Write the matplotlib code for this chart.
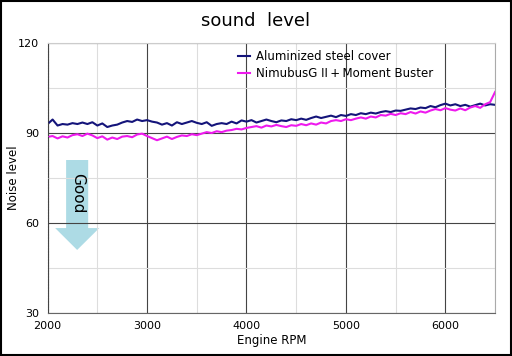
import numpy as np
import matplotlib.pyplot as plt
from matplotlib.patches import Rectangle

# Engine RPM, every 50 rpm from 2000 to 6500
rpm = np.arange(2000, 6501, 50)

steel_cover = [
    93.0, 94.5, 92.5, 93.0, 92.8, 93.3, 93.0, 93.5, 93.0, 93.6,
    92.5, 93.2, 92.0, 92.5, 92.8, 93.5, 94.0, 93.7, 94.5, 94.0,
    94.3, 93.8, 93.5, 92.8, 93.3, 92.5, 93.6, 93.0, 93.5, 94.0,
    93.4, 93.0, 93.6, 92.4, 93.0, 93.3, 93.0, 93.8, 93.2, 94.2,
    93.8, 94.3, 93.5, 94.0, 94.5, 94.0, 93.6, 94.2, 94.0, 94.6,
    94.3, 94.8, 94.4, 95.0, 95.5, 95.0, 95.4, 95.8, 95.3, 96.0,
    95.7, 96.3, 96.0, 96.6, 96.3, 96.8, 96.5, 97.0, 97.3, 97.0,
    97.5, 97.4, 97.8, 98.2, 98.0, 98.5, 98.3, 99.0, 98.6, 99.3,
    99.8, 99.2, 99.6, 99.0, 99.4, 98.8, 99.3, 99.8, 99.2, 99.6,
    99.4,
]

nimbus_buster = [
    88.7, 89.0, 88.2, 88.9, 88.5, 89.3, 89.6, 89.0, 89.8, 89.2,
    88.3, 88.9, 87.8, 88.5, 88.0, 88.8, 89.0, 88.6, 89.5, 89.8,
    89.0, 88.3, 87.6, 88.2, 88.8, 88.0, 88.7, 89.2, 89.0, 89.6,
    89.3, 89.8, 90.3, 90.0, 90.6, 90.3, 90.8, 91.0, 91.4, 91.2,
    91.7, 92.0, 92.3, 91.8, 92.5, 92.2, 92.7, 92.3, 92.0, 92.6,
    92.4, 93.0, 92.6, 93.2, 92.8, 93.5, 93.2, 94.0, 94.3, 94.0,
    94.6, 94.3, 94.8, 95.2, 94.8, 95.5, 95.2, 96.0, 95.8, 96.4,
    96.0, 96.6, 96.3, 97.0, 96.5, 97.2, 96.8, 97.5, 98.0, 97.6,
    98.3, 97.8, 97.5, 98.2, 97.6, 98.5, 99.0, 98.4, 99.6, 100.3,
    103.7,
]

labels = ['Aluminized steel cover', 'NimubusG II\u2009+\u2009Moment Buster']

# "Good" arrow outline (rpm, level)
arrow_x = [2186, 2408, 2408, 2519, 2297, 2076, 2186]
arrow_y = [81, 81, 58.3, 58.3, 51, 58.3, 58.3]

fig = plt.figure(figsize=(5.12, 3.56), dpi=100)
ax = fig.add_axes([0.093, 0.121, 0.874, 0.758])

ax.plot(rpm, steel_cover, color='#14147a', lw=1.5, label=labels[0])
ax.plot(rpm, nimbus_buster, color='#ee1aee', lw=1.5, label=labels[1])

ax.set_xlim(2000, 6500)
ax.set_ylim(30, 120)
ax.set_xticks([2000, 3000, 4000, 5000, 6000])
ax.set_xticks(np.arange(2500, 6501, 1000), minor=True)
ax.set_yticks([30, 60, 90, 120])
ax.set_yticks([45, 75, 105], minor=True)
ax.grid(which='major', color='#444444', lw=0.8)
ax.grid(which='minor', color='#dddddd', lw=0.8)
ax.tick_params(which='both', length=0, labelsize=8)
ax.tick_params(axis='x', pad=6)
ax.tick_params(axis='y', pad=6)

ax.spines['left'].set_linestyle((0, (1, 1.5)))
ax.spines['left'].set_color('#444444')
ax.spines['bottom'].set_color('#666666')
ax.spines['top'].set_color('#cccccc')
ax.spines['right'].set_color('#aaaaaa')

ax.set_xlabel('Engine RPM', fontsize=8.5, labelpad=2)
ax.set_ylabel('Noise level', fontsize=8.5)
ax.yaxis.set_label_coords(-0.062, 0.5)
fig.text(0.5, 0.94, 'sound  level', ha='center', va='center', fontsize=13)

ax.fill(arrow_x, arrow_y, color='#addbe5', lw=0, zorder=1)
ax.text(2297, 70, 'Good', rotation=-90, ha='center', va='center', fontsize=11, zorder=2)

ax.legend(loc='upper left', bbox_to_anchor=(0.41, 1.0), frameon=False, fontsize=8.5,
          handlelength=1.0, handletextpad=0.5, borderaxespad=0.2, labelspacing=0.3)

fig.add_artist(Rectangle((0.002, 0.003), 0.996, 0.994, transform=fig.transFigure,
                         fill=False, edgecolor='black', lw=1.5))

fig.savefig('out.png', dpi=100)
